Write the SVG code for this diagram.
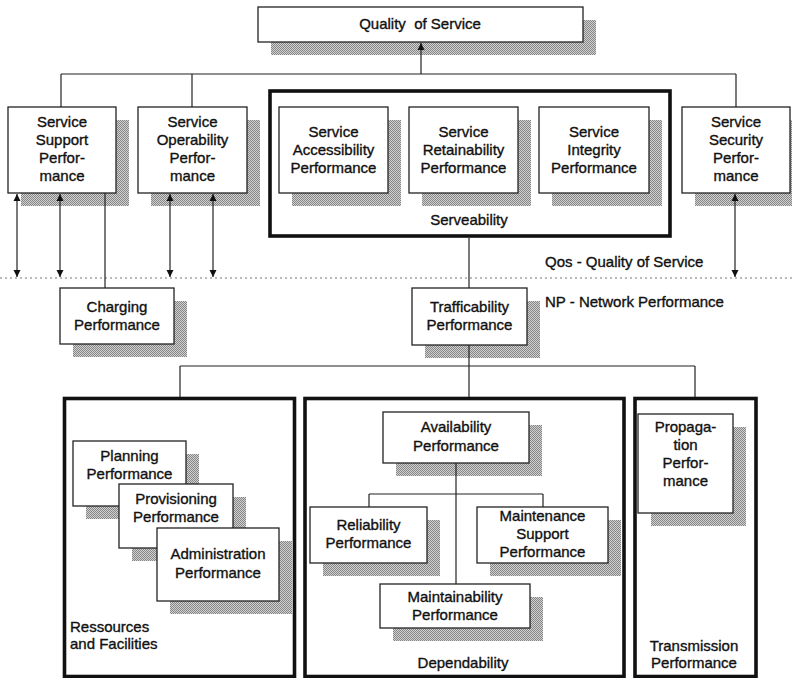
<svg xmlns="http://www.w3.org/2000/svg" width="792" height="678" viewBox="0 0 792 678">
<style>
.box{fill:#fff;stroke:#222;stroke-width:1.3}
.sh{fill:url(#dither);stroke:none}
.thick{fill:none;stroke:#111;stroke-width:3.6}
.ln{fill:none;stroke:#222;stroke-width:1.2}
.dot{fill:none;stroke:#777;stroke-width:1.2;stroke-dasharray:2 3}
text{font-family:"Liberation Sans",Arial,sans-serif;font-size:15px;fill:#111;stroke:#111;stroke-width:0.35;text-anchor:middle}
.l{text-anchor:start}
.pre{white-space:pre}
</style>
<defs>
<pattern id="dither" width="2" height="2" patternUnits="userSpaceOnUse">
<rect width="2" height="2" fill="#d2d2d2"/>
<rect width="1" height="1" fill="#858585"/>
<rect x="1" y="1" width="1" height="1" fill="#858585"/>
</pattern>
<marker id="ah" viewBox="0 0 10 10" refX="10" refY="5" markerWidth="7" markerHeight="8" markerUnits="userSpaceOnUse" orient="auto-start-reverse">
<path d="M0,0 L10,5 L0,10 z" fill="#111"/>
</marker>
</defs>
<rect width="792" height="678" fill="#fff"/>

<g id="boundaries">
<rect class="thick" x="270" y="91" width="400" height="145"/>
<rect class="thick" x="64.5" y="398.5" width="230" height="278"/>
<rect class="thick" x="305" y="398.5" width="319" height="278"/>
<rect class="thick" x="635" y="398.5" width="121" height="278"/>
<line class="dot" x1="0" y1="278" x2="792" y2="278"/>
</g>

<g id="qos">
<rect class="sh" x="271" y="20" width="325" height="35"/>
<rect class="box" x="258" y="7" width="325" height="35"/>
<text class="pre" x="420" y="29" xml:space="preserve">Quality  of Service</text>
</g>

<g id="service-support">
<rect class="sh" x="21" y="120" width="108" height="86"/>
<rect class="box" x="8" y="107" width="108" height="86"/>
<text x="62" y="127">Service</text>
<text x="62" y="145">Support</text>
<text x="62" y="163">Perfor-</text>
<text x="62" y="181">mance</text>
</g>

<g id="service-operability">
<rect class="sh" x="151" y="120" width="109" height="86"/>
<rect class="box" x="138" y="107" width="109" height="86"/>
<text x="192.5" y="127">Service</text>
<text x="192.5" y="145">Operability</text>
<text x="192.5" y="163">Perfor-</text>
<text x="192.5" y="181">mance</text>
</g>

<g id="service-accessibility">
<rect class="sh" x="292" y="120" width="109" height="86"/>
<rect class="box" x="279" y="107" width="109" height="86"/>
<text x="333.5" y="137">Service</text>
<text x="333.5" y="155">Accessibility</text>
<text x="333.5" y="173">Performance</text>
</g>

<g id="service-retainability">
<rect class="sh" x="422" y="120" width="109" height="86"/>
<rect class="box" x="409" y="107" width="109" height="86"/>
<text x="463.5" y="137">Service</text>
<text x="463.5" y="155">Retainability</text>
<text x="463.5" y="173">Performance</text>
</g>

<g id="service-integrity">
<rect class="sh" x="552" y="120" width="110" height="86"/>
<rect class="box" x="539" y="107" width="110" height="86"/>
<text x="594" y="137">Service</text>
<text x="594" y="155">Integrity</text>
<text x="594" y="173">Performance</text>
</g>

<g id="service-security">
<rect class="sh" x="695" y="120" width="108" height="86"/>
<rect class="box" x="682" y="107" width="108" height="86"/>
<text x="736" y="127">Service</text>
<text x="736" y="145">Security</text>
<text x="736" y="163">Perfor-</text>
<text x="736" y="181">mance</text>
</g>

<g id="labels">
<text x="469" y="225">Serveability</text>
<text class="l" x="545" y="267">Qos - Quality of Service</text>
<text class="l" x="545" y="307">NP - Network Performance</text>
<text class="l" x="70" y="632">Ressources</text>
<text class="l" x="70" y="649">and Facilities</text>
<text x="463" y="668">Dependability</text>
<text x="694" y="651">Transmission</text>
<text x="694" y="668">Performance</text>
</g>

<g id="charging">
<rect class="sh" x="73" y="301" width="114" height="56"/>
<rect class="box" x="60" y="288" width="114" height="56"/>
<text x="117" y="312">Charging</text>
<text x="117" y="330">Performance</text>
</g>

<g id="trafficability">
<rect class="sh" x="425" y="301" width="115" height="57"/>
<rect class="box" x="412" y="288" width="115" height="57"/>
<text x="469.5" y="312">Trafficability</text>
<text x="469.5" y="330">Performance</text>
</g>

<g id="planning">
<rect class="sh" x="86" y="454" width="113" height="65"/>
<rect class="box" x="73" y="441" width="113" height="65"/>
<text x="129.5" y="461">Planning</text>
<text x="129.5" y="479">Performance</text>
</g>

<g id="provisioning">
<rect class="sh" x="132" y="497" width="114" height="64"/>
<rect class="box" x="119" y="484" width="114" height="64"/>
<text x="176" y="504">Provisioning</text>
<text x="176" y="522">Performance</text>
</g>

<g id="administration">
<rect class="sh" x="170" y="541" width="122" height="73"/>
<rect class="box" x="157" y="528" width="122" height="73"/>
<text x="218" y="559">Administration</text>
<text x="218" y="578">Performance</text>
</g>

<g id="availability">
<rect class="sh" x="396" y="425" width="146" height="51"/>
<rect class="box" x="383" y="412" width="146" height="51"/>
<text x="456" y="432">Availability</text>
<text x="456" y="451">Performance</text>
</g>

<g id="reliability">
<rect class="sh" x="323" y="520" width="117" height="56"/>
<rect class="box" x="310" y="507" width="117" height="56"/>
<text x="368.5" y="530">Reliability</text>
<text x="368.5" y="548">Performance</text>
</g>

<g id="maintenance-support">
<rect class="sh" x="490" y="520" width="131" height="56"/>
<rect class="box" x="477" y="507" width="131" height="56"/>
<text x="542.5" y="521">Maintenance</text>
<text x="542.5" y="539">Support</text>
<text x="542.5" y="557">Performance</text>
</g>

<g id="maintainability">
<rect class="sh" x="393" y="597" width="150" height="44"/>
<rect class="box" x="380" y="584" width="150" height="44"/>
<text x="455" y="602">Maintainability</text>
<text x="455" y="620">Performance</text>
</g>

<g id="propagation">
<rect class="sh" x="651" y="427" width="95" height="99"/>
<rect class="box" x="638" y="414" width="95" height="99"/>
<text x="685.5" y="432">Propaga-</text>
<text x="685.5" y="450">tion</text>
<text x="685.5" y="468">Perfor-</text>
<text x="685.5" y="486">mance</text>
</g>

<g id="connectors">
<line class="ln" x1="61" y1="74" x2="736" y2="74"/>
<line class="ln" x1="61" y1="74" x2="61" y2="107"/>
<line class="ln" x1="192" y1="74" x2="192" y2="107"/>
<line class="ln" x1="736" y1="74" x2="736" y2="107"/>
<line class="ln" x1="421" y1="74" x2="421" y2="43" marker-end="url(#ah)"/>
<line class="ln" x1="17" y1="194" x2="17" y2="277" marker-start="url(#ah)" marker-end="url(#ah)"/>
<line class="ln" x1="60" y1="194" x2="60" y2="277" marker-start="url(#ah)" marker-end="url(#ah)"/>
<line class="ln" x1="170" y1="194" x2="170" y2="277" marker-start="url(#ah)" marker-end="url(#ah)"/>
<line class="ln" x1="213" y1="194" x2="213" y2="277" marker-start="url(#ah)" marker-end="url(#ah)"/>
<line class="ln" x1="735" y1="194" x2="735" y2="277" marker-start="url(#ah)" marker-end="url(#ah)"/>
<line class="ln" x1="105" y1="193" x2="105" y2="288"/>
<line class="ln" x1="469" y1="238" x2="469" y2="288"/>
<line class="ln" x1="469" y1="345" x2="469" y2="397"/>
<line class="ln" x1="180" y1="366" x2="695" y2="366"/>
<line class="ln" x1="180" y1="366" x2="180" y2="397"/>
<line class="ln" x1="695" y1="366" x2="695" y2="397"/>
<line class="ln" x1="456" y1="463" x2="456" y2="584"/>
<line class="ln" x1="369" y1="494" x2="543" y2="494"/>
<line class="ln" x1="369" y1="494" x2="369" y2="507"/>
<line class="ln" x1="543" y1="494" x2="543" y2="507"/>
</g>
</svg>
